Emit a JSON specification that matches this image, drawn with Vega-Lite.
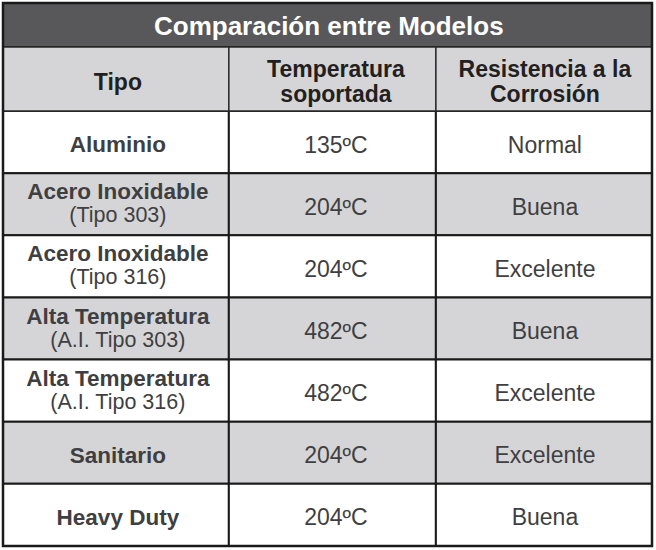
{
  "$schema": "https://vega.github.io/schema/vega-lite/v6.json",
  "width": 649,
  "height": 543,
  "padding": {"left": 3, "top": 3, "right": 4, "bottom": 4},
  "autosize": {"type": "none"},
  "background": "#ffffff",
  "config": {"view": {"stroke": null}},
  "data": {
    "values": [
      {"row": 0, "tipo": "Aluminio", "sub": "", "temp": "135ºC", "res": "Normal", "shaded": false},
      {"row": 1, "tipo": "Acero Inoxidable", "sub": "(Tipo 303)", "temp": "204ºC", "res": "Buena", "shaded": true},
      {"row": 2, "tipo": "Acero Inoxidable", "sub": "(Tipo 316)", "temp": "204ºC", "res": "Excelente", "shaded": false},
      {"row": 3, "tipo": "Alta Temperatura", "sub": "(A.I. Tipo 303)", "temp": "482ºC", "res": "Buena", "shaded": true},
      {"row": 4, "tipo": "Alta Temperatura", "sub": "(A.I. Tipo 316)", "temp": "482ºC", "res": "Excelente", "shaded": false},
      {"row": 5, "tipo": "Sanitario", "sub": "", "temp": "204ºC", "res": "Excelente", "shaded": true},
      {"row": 6, "tipo": "Heavy Duty", "sub": "", "temp": "204ºC", "res": "Buena", "shaded": false}
    ]
  },
  "transform": [
    {"calculate": "datum.row + 1", "as": "rowEnd"},
    {"calculate": "datum.row + 0.5", "as": "rowMid"}
  ],
  "layer": [
    {
      "mark": {"type": "rect", "stroke": "#1a1a1a", "strokeWidth": 2},
      "encoding": {
        "x": {"datum": 0, "type": "quantitative", "scale": {"domain": [0, 100], "nice": false, "zero": false}, "axis": null},
        "x2": {"datum": 34.8},
        "y": {"field": "row", "type": "quantitative", "scale": {"domain": [-1.738, 7], "nice": false, "zero": false, "reverse": true}, "axis": null},
        "y2": {"field": "rowEnd"},
        "fill": {"condition": {"test": "datum.shaded", "value": "#d5d5d7"}, "value": "#ffffff"}
      }
    },
    {
      "mark": {"type": "rect", "stroke": "#1a1a1a", "strokeWidth": 2},
      "encoding": {
        "x": {"datum": 34.8, "type": "quantitative", "axis": null},
        "x2": {"datum": 66.7},
        "y": {"field": "row", "type": "quantitative", "axis": null},
        "y2": {"field": "rowEnd"},
        "fill": {"condition": {"test": "datum.shaded", "value": "#d5d5d7"}, "value": "#ffffff"}
      }
    },
    {
      "mark": {"type": "rect", "stroke": "#1a1a1a", "strokeWidth": 2},
      "encoding": {
        "x": {"datum": 66.7, "type": "quantitative", "axis": null},
        "x2": {"datum": 100},
        "y": {"field": "row", "type": "quantitative", "axis": null},
        "y2": {"field": "rowEnd"},
        "fill": {"condition": {"test": "datum.shaded", "value": "#d5d5d7"}, "value": "#ffffff"}
      }
    },
    {
      "data": {"values": [{"title": "Comparación entre Modelos"}]},
      "layer": [
        {
          "mark": {"type": "rect", "fill": "#58585a", "stroke": "#1a1a1a", "strokeWidth": 2},
          "encoding": {
            "x": {"datum": 0, "type": "quantitative", "axis": null},
            "x2": {"datum": 100},
            "y": {"datum": -1.738, "type": "quantitative", "axis": null},
            "y2": {"datum": -1.03}
          }
        },
        {
          "mark": {"type": "rect", "fill": "#d5d5d7", "stroke": "#2a2a2a", "strokeWidth": 1.5},
          "encoding": {
            "x": {"datum": 0, "type": "quantitative", "axis": null},
            "x2": {"datum": 34.8},
            "y": {"datum": -1.03, "type": "quantitative", "axis": null},
            "y2": {"datum": 0}
          }
        },
        {
          "mark": {"type": "rect", "fill": "#d5d5d7", "stroke": "#2a2a2a", "strokeWidth": 1.5},
          "encoding": {
            "x": {"datum": 34.8, "type": "quantitative", "axis": null},
            "x2": {"datum": 66.7},
            "y": {"datum": -1.03, "type": "quantitative", "axis": null},
            "y2": {"datum": 0}
          }
        },
        {
          "mark": {"type": "rect", "fill": "#d5d5d7", "stroke": "#2a2a2a", "strokeWidth": 1.5},
          "encoding": {
            "x": {"datum": 66.7, "type": "quantitative", "axis": null},
            "x2": {"datum": 100},
            "y": {"datum": -1.03, "type": "quantitative", "axis": null},
            "y2": {"datum": 0}
          }
        },
        {
          "mark": {"type": "rect", "fillOpacity": 0, "stroke": "#1a1a1a", "strokeWidth": 2.5},
          "encoding": {
            "x": {"datum": 0, "type": "quantitative", "axis": null},
            "x2": {"datum": 100},
            "y": {"datum": -1.738, "type": "quantitative", "axis": null},
            "y2": {"datum": 7}
          }
        },
        {
          "mark": {"type": "text", "font": "Liberation Sans", "fontWeight": "bold", "fontSize": 26, "color": "#ffffff", "baseline": "middle", "align": "center", "dy": 2},
          "encoding": {
            "x": {"datum": 50.2, "type": "quantitative", "axis": null},
            "y": {"datum": -1.384, "type": "quantitative", "axis": null},
            "text": {"field": "title"}
          }
        },
        {
          "mark": {"type": "text", "font": "Liberation Sans", "fontWeight": "bold", "fontSize": 23, "color": "#231f20", "baseline": "middle", "align": "center", "dy": 4},
          "encoding": {
            "x": {"datum": 17.7, "type": "quantitative", "axis": null},
            "y": {"datum": -0.515, "type": "quantitative", "axis": null},
            "text": {"value": "Tipo"}
          }
        },
        {
          "mark": {"type": "text", "font": "Liberation Sans", "fontWeight": "bold", "fontSize": 23, "color": "#231f20", "baseline": "middle", "align": "center", "lineBreak": "\n", "lineHeight": 25, "dy": -9},
          "encoding": {
            "x": {"datum": 51.3, "type": "quantitative", "axis": null},
            "y": {"datum": -0.515, "type": "quantitative", "axis": null},
            "text": {"value": "Temperatura\nsoportada"}
          }
        },
        {
          "mark": {"type": "text", "font": "Liberation Sans", "fontWeight": "bold", "fontSize": 23, "color": "#231f20", "baseline": "middle", "align": "center", "lineBreak": "\n", "lineHeight": 25, "dy": -9},
          "encoding": {
            "x": {"datum": 83.5, "type": "quantitative", "axis": null},
            "y": {"datum": -0.515, "type": "quantitative", "axis": null},
            "text": {"value": "Resistencia a la\nCorrosión"}
          }
        }
      ]
    },
    {
      "transform": [{"filter": "datum.sub == ''"}],
      "mark": {"type": "text", "font": "Liberation Sans", "fontWeight": "bold", "fontSize": 22.5, "color": "#3f3f41", "baseline": "middle", "align": "center", "dy": 3},
      "encoding": {
        "x": {"datum": 17.7, "type": "quantitative", "axis": null},
        "y": {"field": "rowMid", "type": "quantitative", "axis": null},
        "text": {"field": "tipo"}
      }
    },
    {
      "transform": [{"filter": "datum.sub != ''"}],
      "mark": {"type": "text", "font": "Liberation Sans", "fontWeight": "bold", "fontSize": 22.5, "color": "#3f3f41", "baseline": "middle", "align": "center", "dy": -12},
      "encoding": {
        "x": {"datum": 17.7, "type": "quantitative", "axis": null},
        "y": {"field": "rowMid", "type": "quantitative", "axis": null},
        "text": {"field": "tipo"}
      }
    },
    {
      "transform": [{"filter": "datum.sub != ''"}],
      "mark": {"type": "text", "font": "Liberation Sans", "fontSize": 21.5, "color": "#3f3f41", "baseline": "middle", "align": "center", "dy": 12},
      "encoding": {
        "x": {"datum": 17.7, "type": "quantitative", "axis": null},
        "y": {"field": "rowMid", "type": "quantitative", "axis": null},
        "text": {"field": "sub"}
      }
    },
    {
      "mark": {"type": "text", "font": "Liberation Sans", "fontSize": 23, "color": "#3f3f41", "baseline": "middle", "align": "center", "dy": 3.5},
      "encoding": {
        "x": {"datum": 51.3, "type": "quantitative", "axis": null},
        "y": {"field": "rowMid", "type": "quantitative", "axis": null},
        "text": {"field": "temp"}
      }
    },
    {
      "mark": {"type": "text", "font": "Liberation Sans", "fontSize": 23, "color": "#3f3f41", "baseline": "middle", "align": "center", "dy": 3.5},
      "encoding": {
        "x": {"datum": 83.5, "type": "quantitative", "axis": null},
        "y": {"field": "rowMid", "type": "quantitative", "axis": null},
        "text": {"field": "res"}
      }
    }
  ]
}
